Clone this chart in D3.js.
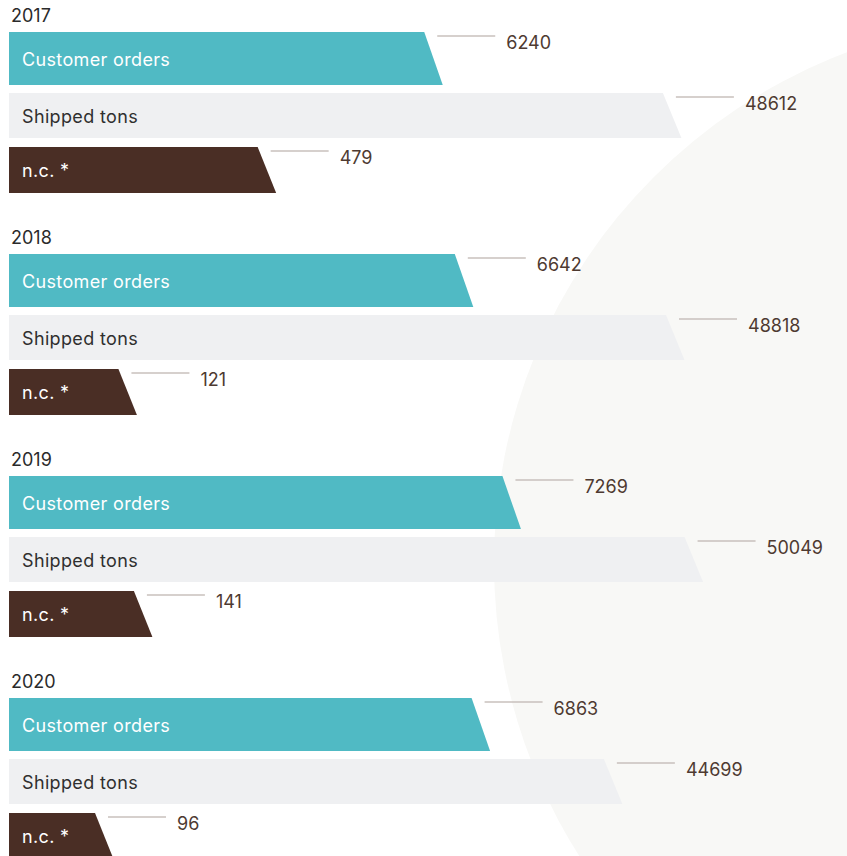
<!DOCTYPE html>
<html>
<head>
<meta charset="utf-8">
<script src="https://cdn.jsdelivr.net/npm/d3@7"></script>
<style>
  html, body { margin: 0; padding: 0; background: #ffffff; }
  svg { display: block; font-family: Inter, "Noto Sans", sans-serif; }
</style>
</head>
<body>
<svg id="chart" width="847" height="856"></svg>
<script>
// Yearly figures
const years = ["2017", "2018", "2019", "2020"];
const customerOrders = [6240, 6642, 7269, 6863];
const shippedTons = [48612, 48818, 50049, 44699];
const nonConformities = [479, 121, 141, 96];
const seriesLabels = ["Customer orders", "Shipped tons", "n.c. *"];

const svg = d3.select("#chart");

// Soft background disc on the right
svg.append("circle")
  .attr("cx", 1040).attr("cy", 563).attr("r", 546)
  .attr("fill", "#f8f8f6");

// One scale per series (bar length from the left edge)
const xOrders = d3.scaleLinear().domain([6000, 7500]).range([397, 511]);
const xTons = d3.scaleLinear().domain([40000, 52000]).range([524, 705]);
const xNc = d3.scaleLog().domain([50, 500]).range([20, 253]);

// Vertical placement of the year blocks
const yYear = d3.scalePoint().domain(years).range([0, 666]);

const series = [
  { label: seriesLabels[0], values: customerOrders, scale: xOrders, top: 32, h: 53, fill: "#50bac4", text: "#ffffff" },
  { label: seriesLabels[1], values: shippedTons, scale: xTons, top: 93, h: 45, fill: "#eff0f2", text: "#2f2f2f" },
  { label: seriesLabels[2], values: nonConformities, scale: xNc, top: 147, h: 46, fill: "#4a2e25", text: "#ffffff" }
];

const x0 = 9, slant = 18.5;

years.forEach((yr, i) => {
  const g = svg.append("g").attr("transform", `translate(0,${yYear(yr)})`);

  g.append("text")
    .attr("x", 11).attr("y", 22)
    .attr("font-size", 18).attr("fill", "#2b2b2b")
    .text(yr);

  series.forEach(s => {
    const v = s.values[i];
    const w = s.scale(v);
    const t = s.top, b = s.top + s.h;
    g.append("path")
      .attr("d", `M${x0},${t}L${x0 + w},${t}L${x0 + w + slant},${b}L${x0},${b}Z`)
      .attr("fill", s.fill);

    g.append("text")
      .attr("x", 22).attr("y", t + s.h / 2 + 7)
      .attr("font-size", 18).attr("letter-spacing", 0.35)
      .attr("fill", s.text)
      .text(s.label);

    const lx = x0 + w + 13;
    const ly = t + 4;
    g.append("line")
      .attr("x1", lx).attr("x2", lx + 58)
      .attr("y1", ly).attr("y2", ly)
      .attr("stroke", "#c9c1bc").attr("stroke-width", 1.3);

    g.append("text")
      .attr("x", lx + 69).attr("y", ly + 13)
      .attr("font-size", 18).attr("fill", "#4e3a31")
      .text(v);
  });
});
</script>
</body>
</html>
